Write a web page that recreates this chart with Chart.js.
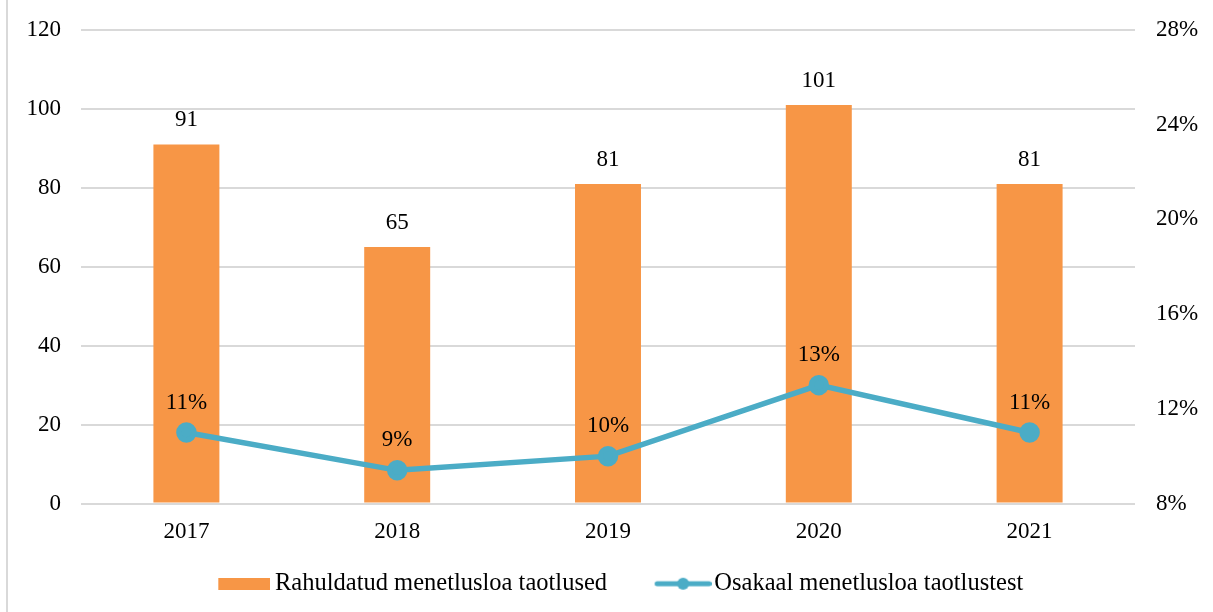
<!DOCTYPE html>
<html>
<head>
<meta charset="utf-8">
<script src="https://cdn.jsdelivr.net/npm/chart.js@4.4.1/dist/chart.umd.min.js"></script>
<style>
  html, body { margin: 0; padding: 0; background: #fff; }
  #wrap { position: relative; width: 1213px; height: 612px; }
  #edge { position: absolute; left: 6px; top: 0; width: 2px; height: 612px; background: #d9d9d9; }
  canvas { position: absolute; left: 0; top: 0; }
</style>
</head>
<body>
<div id="wrap">
  <div id="edge"></div>
  <canvas id="chart" width="1213" height="612"></canvas>
</div>
<script>
const years = ["2017", "2018", "2019", "2020", "2021"];
const approved = [91, 65, 81, 101, 81];
const shareOfApplications = [11, 9.4, 10, 13, 11];
const barLabel = "Rahuldatud menetlusloa taotlused";
const lineLabel = "Osakaal menetlusloa taotlustest";

const ORANGE = "#F79646";
const TEAL = "#4BACC6";
const FONT = "'Liberation Serif', 'Times New Roman', serif";
const LEGEND_BOX = 81;

// legend marks (drawn at the right side of a wider transparent canvas)
function boxMark() {
  const c = document.createElement("canvas");
  c.width = 96; c.height = 12;
  const g = c.getContext("2d");
  g.fillStyle = ORANGE;
  g.fillRect(44, 0, 52, 12);
  return c;
}
function lineMark() {
  const c = document.createElement("canvas");
  c.width = 100; c.height = 14;
  const g = c.getContext("2d");
  g.strokeStyle = TEAL;
  g.lineWidth = 5;
  g.lineCap = "round";
  g.beginPath(); g.moveTo(45.5, 7); g.lineTo(97.5, 7); g.stroke();
  g.fillStyle = TEAL;
  g.beginPath(); g.arc(71.5, 7, 6, 0, Math.PI * 2); g.fill();
  return c;
}

const valueLabels = {
  id: "valueLabels",
  afterLayout(chart) {
    // nudge legend a little to the left like the original
    chart.legend.left -= 4;
    chart.legend.right -= 4;
  },
  afterDatasetsDraw(chart) {
    const ctx = chart.ctx;
    ctx.save();
    ctx.font = "23px " + FONT;
    ctx.fillStyle = "#000";
    ctx.textAlign = "center";
    ctx.textBaseline = "middle";
    chart.data.datasets.forEach((ds, i) => {
      const meta = chart.getDatasetMeta(i);
      meta.data.forEach((el, j) => {
        const v = ds.data[j];
        if (ds.type === "line") {
          ctx.fillText(Math.round(v) + "%", el.x, el.y - 30);
        } else {
          ctx.fillText(String(v), el.x, el.y - 24);
        }
      });
    });
    ctx.restore();
  }
};

new Chart(document.getElementById("chart"), {
  data: {
    labels: years,
    datasets: [
      {
        type: "bar",
        label: barLabel,
        data: approved,
        backgroundColor: ORANGE,
        barPercentage: 0.313,
        categoryPercentage: 1,
        yAxisID: "y",
        order: 1
      },
      {
        type: "line",
        label: lineLabel,
        data: shareOfApplications,
        borderColor: TEAL,
        backgroundColor: TEAL,
        borderWidth: 5.5,
        pointRadius: 7.5,
        pointHoverRadius: 7.5,
        tension: 0,
        yAxisID: "y1",
        order: 0
      }
    ]
  },
  options: {
    responsive: false,
    animation: false,
    layout: { padding: { top: 30, left: 0, right: 0, bottom: 6 } },
    plugins: {
      tooltip: { enabled: false },
      legend: {
        position: "bottom",
        labels: {
          usePointStyle: true,
          pointStyleWidth: LEGEND_BOX,
          padding: 14,
          color: "#000",
          font: { family: FONT, size: 24.5 },
          generateLabels: () => [
            { text: barLabel, pointStyle: boxMark(), fillStyle: ORANGE, strokeStyle: "transparent", lineWidth: 0, hidden: false, datasetIndex: 0 },
            { text: lineLabel, pointStyle: lineMark(), fillStyle: TEAL, strokeStyle: "transparent", lineWidth: 0, hidden: false, datasetIndex: 1 }
          ]
        }
      }
    },
    scales: {
      x: {
        grid: { display: false },
        border: { display: false },
        ticks: { color: "#000", padding: 7, font: { family: FONT, size: 23 } },
        afterFit: s => { s.height = 54; }
      },
      y: {
        position: "left",
        min: 0, max: 120,
        ticks: { stepSize: 20, color: "#000", padding: 10, font: { family: FONT, size: 23 } },
        grid: { color: "#d9d9d9", lineWidth: 2, drawTicks: true, tickLength: 10, tickColor: "transparent" },
        border: { display: false },
        afterFit: s => { s.width = 81; }
      },
      y1: {
        position: "right",
        min: 8, max: 28,
        ticks: { stepSize: 4, color: "#000", padding: 10, font: { family: FONT, size: 23 }, callback: v => v + "%" },
        grid: { drawOnChartArea: false, color: "transparent", drawTicks: true, tickLength: 11, tickColor: "transparent" },
        border: { display: false },
        afterFit: s => { s.width = 78; }
      }
    }
  },
  plugins: [valueLabels]
});
</script>
</body>
</html>
